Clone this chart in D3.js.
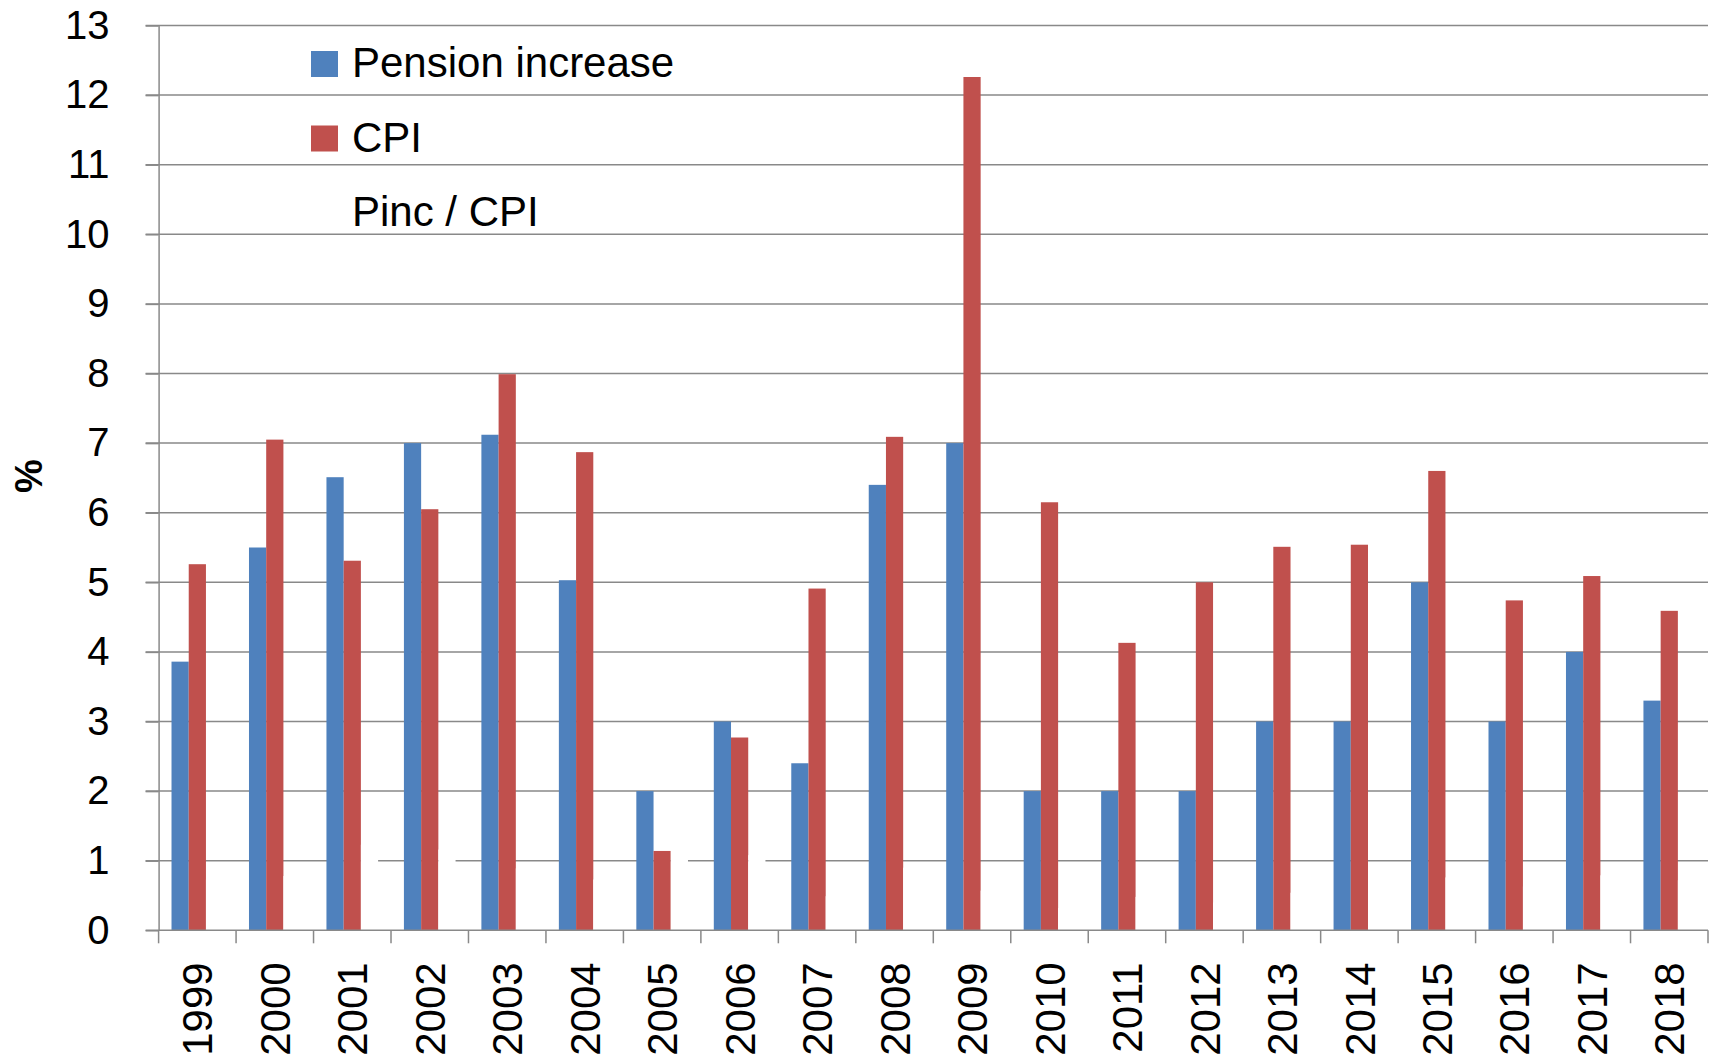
<!doctype html>
<html>
<head>
<meta charset="utf-8">
<script src="https://d3js.org/d3.v7.min.js"></script>
<style>
  body { margin: 0; background: #fff; }
  .graph { width: 1715px; height: 1061px; }
  text { font-family: "Liberation Sans", Arial, sans-serif; fill: #000; }
</style>
</head>
<body>
<div class="graph"></div>

<script>
var years = ['1999','2000','2001','2002','2003','2004','2005','2006','2007','2008',
             '2009','2010','2011','2012','2013','2014','2015','2016','2017','2018'];

var pensionIncrease = [3.86, 5.50, 6.51, 7.00, 7.12, 5.03, 2.00, 3.00, 2.40, 6.40,
                       7.00, 2.00, 2.00, 2.00, 3.00, 3.00, 5.00, 3.00, 4.00, 3.30];

var cpi = [5.26, 7.05, 5.31, 6.05, 7.99, 6.87, 1.14, 2.77, 4.91, 7.09,
           12.26, 6.15, 4.13, 5.00, 5.51, 5.54, 6.60, 4.74, 5.09, 4.59];

// third series is drawn in white, only shows where it hides the grid
var pincPerCpi = [0.73, 0.78, 1.23, 1.16, 0.89, 0.73, 1.75, 1.08, 0.49, 0.90,
                  0.57, 0.32, 0.48, 0.40, 0.54, 0.54, 0.76, 0.63, 0.79, 0.72];

var seriesNames = ['Pension increase', 'CPI', 'Pinc / CPI'];
var yTicks = [0,1,2,3,4,5,6,7,8,9,10,11,12,13];

var colors = { 'Pension increase': '#4f81bd', 'CPI': '#c0504d', 'Pinc / CPI': '#ffffff' };
var gridColor = '#898989';

var width = 1715, height = 1061;
var plotLeft = 158.6, plotRight = 1708, plotTop = 25.5, plotBottom = 930.3;

var svg = d3.select('.graph')
            .append('svg')
            .attr('width', width)
            .attr('height', height);

var x0 = d3.scaleBand()
           .domain(years)
           .range([plotLeft, plotRight])
           .paddingInner(0)
           .paddingOuter(0);

var x1 = d3.scaleBand()
           .domain(seriesNames)
           .range([0, x0.bandwidth()])
           .paddingInner(0)
           .paddingOuter(0.75);

var y = d3.scaleLinear()
          .domain([0, 13])
          .range([plotBottom, plotTop]);

// gridlines
svg.append('g')
   .selectAll('line')
   .data(yTicks.slice(1))
   .enter()
   .append('line')
   .attr('x1', plotLeft - 13)
   .attr('x2', plotRight)
   .attr('y1', function(d){ return y(d); })
   .attr('y2', function(d){ return y(d); })
   .style('stroke', gridColor)
   .style('stroke-width', 1.5);

// bars
var rows = years.map(function(yr, i){
  return { year: yr, values: [
    { key: 'Pension increase', value: pensionIncrease[i] },
    { key: 'CPI', value: cpi[i] },
    { key: 'Pinc / CPI', value: pincPerCpi[i] }
  ]};
});

var group = svg.append('g')
               .selectAll('g')
               .data(rows)
               .enter()
               .append('g')
               .attr('transform', function(d){ return 'translate(' + x0(d.year) + ',0)'; });

group.selectAll('rect')
     .data(function(d){ return d.values; })
     .enter()
     .append('rect')
     .attr('x', function(d){ return x1(d.key); })
     .attr('y', function(d){ return y(d.value); })
     .attr('width', x1.bandwidth())
     .attr('height', function(d){ return y(0) - y(d.value); })
     .style('fill', function(d){ return colors[d.key]; });

// y axis
var yAxis = svg.append('g')
               .attr('transform', 'translate(' + plotLeft + ',0)')
               .call(d3.axisLeft(y).tickValues(yTicks).tickSize(13).tickPadding(36).tickSizeOuter(0));
yAxis.select('.domain').style('stroke', gridColor).style('stroke-width', 1.5);
yAxis.selectAll('.tick line').style('stroke', gridColor).style('stroke-width', 1.5);
yAxis.selectAll('.tick text')
     .style('font-size', '40px')
     .style('font-family', '"Liberation Sans", Arial, sans-serif');

// x axis
svg.append('line')
   .attr('x1', plotLeft - 13)
   .attr('x2', plotRight)
   .attr('y1', y(0))
   .attr('y2', y(0))
   .style('stroke', gridColor)
   .style('stroke-width', 1.5);

var bounds = years.map(function(yr){ return x0(yr); }).concat([x0(years[years.length-1]) + x0.bandwidth()]);
svg.append('g')
   .selectAll('line')
   .data(bounds)
   .enter()
   .append('line')
   .attr('x1', function(d){ return d; })
   .attr('x2', function(d){ return d; })
   .attr('y1', y(0))
   .attr('y2', y(0) + 13)
   .style('stroke', gridColor)
   .style('stroke-width', 1.5);

var xAxis = svg.append('g')
               .attr('transform', 'translate(0,' + y(0) + ')')
               .call(d3.axisBottom(x0).tickSize(0).tickPadding(0));
xAxis.select('.domain').remove();
xAxis.selectAll('.tick text')
     .attr('transform', 'translate(0,32) rotate(-90)')
     .attr('x', 0)
     .attr('y', 0)
     .attr('dy', '0.36em')
     .style('text-anchor', 'end')
     .style('font-size', '42px')
     .style('font-family', '"Liberation Sans", Arial, sans-serif');

// y title
svg.append('text')
   .attr('transform', 'translate(28.5,476) rotate(-90)')
   .attr('dy', '0.36em')
   .style('text-anchor', 'middle')
   .style('font-size', '38px')
   .style('font-weight', 'bold')
   .text('%');

// legend
var legend = svg.append('g')
                .selectAll('g')
                .data(seriesNames)
                .enter()
                .append('g')
                .attr('transform', function(d,i){ return 'translate(311,' + (51 + i*74.5) + ')'; });

legend.append('rect')
      .attr('width', 27)
      .attr('height', 26)
      .style('fill', function(d){ return colors[d]; });

legend.append('text')
      .attr('x', 41)
      .attr('y', 26)
      .style('font-size', '42px')
      .text(function(d){ return d; });
</script>
</body>
</html>
